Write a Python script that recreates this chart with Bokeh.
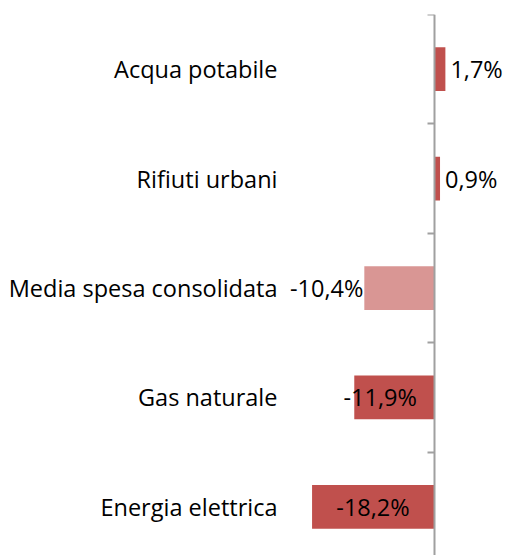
from bokeh.plotting import figure
from bokeh.models import ColumnDataSource, FixedTicker, LinearAxis, Range1d
from bokeh.embed import file_html
from bokeh.resources import INLINE
from bokeh.core.properties import value

# ---- data (top to bottom as shown) ----
categories = ["Acqua potabile", "Rifiuti urbani", "Media spesa consolidata",
              "Gas naturale", "Energia elettrica"]
values = [1.7, 0.9, -10.4, -11.9, -18.2]
value_labels = ["1,7%", "0,9%", "-10,4%", "-11,9%", "-18,2%"]
highlight = [False, False, True, False, False]

# ---- styling ----
DARK = "#C0504D"
LIGHT = "#D99694"
FONT = "Open Sans"
FS = "23.5px"

n = len(categories)
ypos = [n - 1 - i for i in range(n)]          # first category at top
colors = [LIGHT if h else DARK for h in highlight]

# label placement style per bar: "out" outside end, "center" inside
label_mode = ["out", "out", "out", "center", "center"]
label_shift = [0, 0, 0, -14, 0]                # pixel nudges

lx, la, lo = [], [], []
for v, m, s in zip(values, label_mode, label_shift):
    if m == "center":
        lx.append(v / 2); la.append("center"); lo.append(s)
    elif v >= 0:
        lx.append(v); la.append("left"); lo.append(5 + s)
    else:
        lx.append(v); la.append("right"); lo.append(-1 + s)

src = ColumnDataSource(dict(y=ypos, v=values, c=colors, lx=lx, la=la, lo=lo,
                            t=value_labels))

W, H = 506, 555
FRAME_LEFT = 285
AXIS_X = 433.5
PX_PER_UNIT = 6.7
x0 = -(AXIS_X - FRAME_LEFT) / PX_PER_UNIT
x1 = (W - AXIS_X) / PX_PER_UNIT
TOP = 14

p = figure(width=W, height=H, output_backend="svg", toolbar_location=None,
           x_range=Range1d(x0, x1), y_range=Range1d(-0.445, n - 0.5),
           min_border_left=FRAME_LEFT, min_border_right=0, min_border_top=TOP,
           min_border_bottom=0)
p.outline_line_color = None
p.grid.visible = False
p.xaxis.visible = False

p.hbar(y="y", left=0, right="v", height=0.4, fill_color="c", line_color=None,
       source=src)

p.text(x="lx", y="y", text="t", text_align="la", x_offset="lo",
       text_baseline="middle", text_font=value(FONT), text_font_size=FS,
       text_color="#000000", source=src)

# category axis (labels only)
ya = p.yaxis[0]
ya.ticker = FixedTicker(ticks=ypos)
ya.major_label_overrides = {y: c for y, c in zip(ypos, categories)}
ya.axis_line_color = None
ya.major_tick_line_color = None
ya.minor_tick_line_color = None
ya.major_label_standoff = 2
ya.major_label_text_font = FONT
ya.major_label_text_font_size = FS
ya.major_label_text_color = "#000000"

# value axis line at x = 0 with ticks between categories
vticks = [i - 0.5 for i in range(n + 1)]
va = LinearAxis(fixed_location=0, ticker=FixedTicker(ticks=vticks),
                major_tick_out=7, major_tick_in=0, minor_tick_line_color=None,
                axis_line_color="#A0A0A0", axis_line_width=2,
                major_tick_line_color="#A0A0A0", major_tick_line_width=2,
                major_label_overrides={t: "" for t in vticks})
p.add_layout(va, "left")

open("out.html", "w").write(file_html(p, INLINE))
